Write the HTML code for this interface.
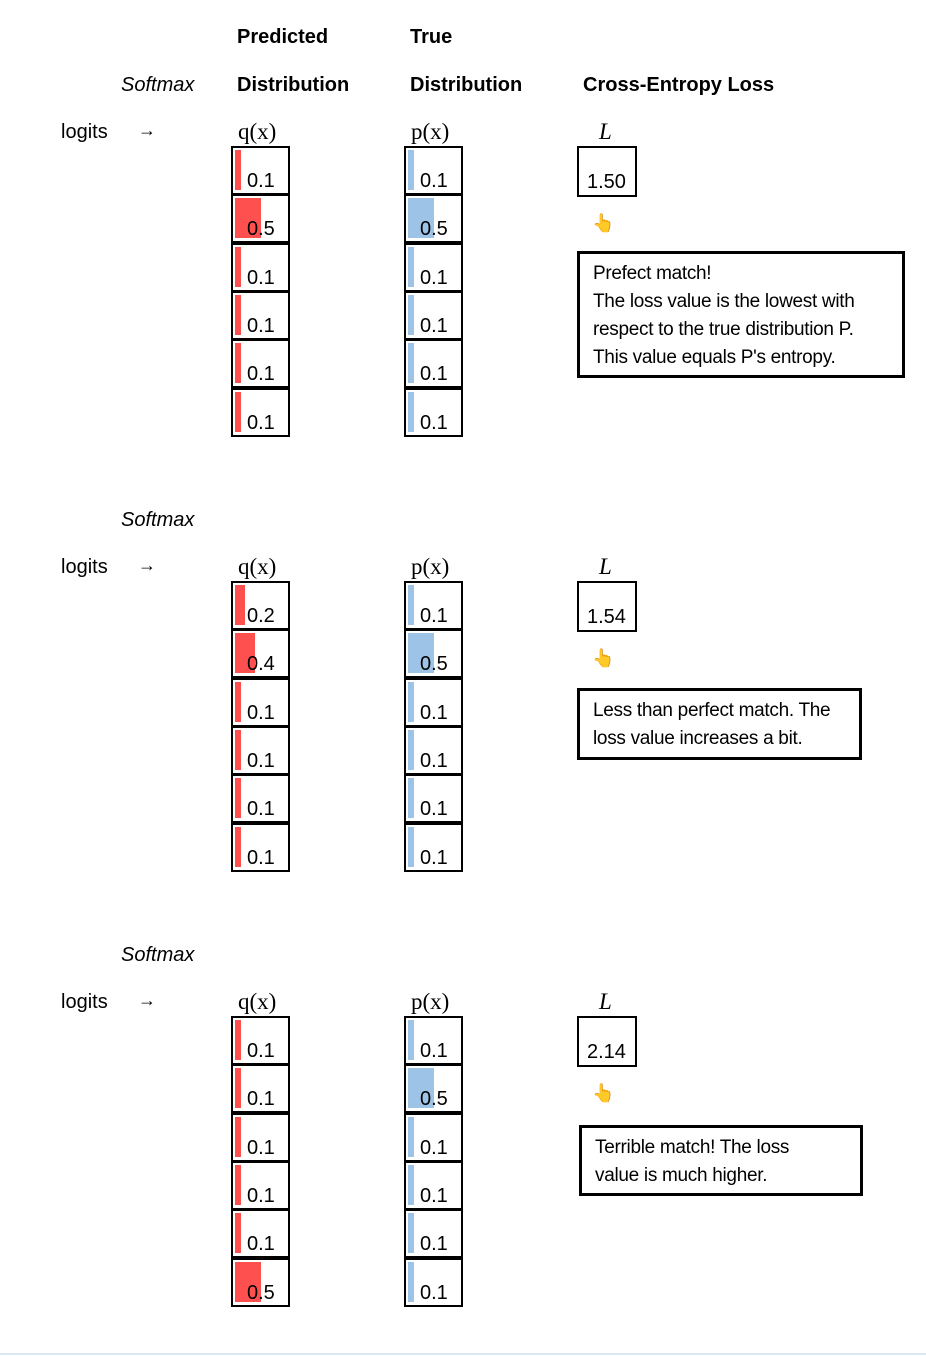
<!DOCTYPE html>
<html><head><meta charset="utf-8"><style>
body{margin:0;width:926px;height:1356px;background:#fff;position:relative;overflow:hidden;font-family:"Liberation Sans",sans-serif;color:#000}
.a{position:absolute;white-space:nowrap}
.h{font-weight:bold;font-size:20px}
.i{font-style:italic;font-size:20px}
.s{font-family:"Liberation Serif",serif;font-size:23px}
.cell{position:absolute;width:55px;height:45px;border:2px solid #000;box-sizing:content-box}
.v{position:absolute;font-size:20px;left:14px;top:22px}
.bar{position:absolute;left:2px;top:2px;height:40px}
.box{position:absolute;border:3px solid #000;font-size:19px;line-height:28px;padding:6px 13px;box-sizing:border-box;letter-spacing:-0.3px}
</style></head><body>
<div class="a h" style="left:237px;top:26px">Predicted</div>
<div class="a h" style="left:410px;top:26px">True</div>
<div class="a h" style="left:237px;top:74px">Distribution</div>
<div class="a h" style="left:410px;top:74px">Distribution</div>
<div class="a h" style="left:583px;top:74px">Cross-Entropy Loss</div>
<div id="root"></div>
<div class="a" style="left:0;top:1353px;width:926px;height:2px;background:#dbe8f2"></div>
<script>
var secs=[
 {q:[.1,.5,.1,.1,.1,.1],ql:["0.1","0.5","0.1","0.1","0.1","0.1"],L:"1.50",t:"Prefect match!<br>The loss value is the lowest with<br>respect to the true distribution P.<br>This value equals P's entropy.",bx:[577,251,328,127]},
 {q:[.2,.4,.1,.1,.1,.1],ql:["0.2","0.4","0.1","0.1","0.1","0.1"],L:"1.54",t:"Less than perfect match. The<br>loss value increases a bit.",bx:[577,688,285,72]},
 {q:[.1,.1,.1,.1,.1,.5],ql:["0.1","0.1","0.1","0.1","0.1","0.5"],L:"2.14",t:"Terrible match! The loss<br>value is much higher.",bx:[579,1125,284,71]}
];
var h="";
secs.forEach(function(s,k){
 var o=k*435;
 h+='<div class="a i" style="left:121px;top:'+(74+o)+'px">Softmax</div>';
 h+='<div class="a" style="left:61px;top:'+(121+o)+'px;font-size:20px">logits</div>';
 h+='<div class="a" style="left:138px;top:'+(120+o)+'px;font-size:18px">&rarr;</div>';
 h+='<div class="a s" style="left:238px;top:'+(119+o)+'px">q(x)</div>';
 h+='<div class="a s" style="left:411px;top:'+(119+o)+'px">p(x)</div>';
 h+='<div class="a s" style="left:599px;top:'+(119+o)+'px;font-style:italic">L</div>';
 var p=[.1,.5,.1,.1,.1,.1];
 for(var r=0;r<6;r++){
  var y=146+o+r*48.3;
  var wq=s.q[r]==.5?26:s.q[r]==.4?20:s.q[r]==.2?10:6;
  h+='<div class="cell" style="left:231px;top:'+y+'px"><div class="bar" style="width:'+wq+'px;background:#ff5050"></div><div class="v">'+s.ql[r]+'</div></div>';
  var wp=p[r]==.5?26:6;
  h+='<div class="cell" style="left:404px;top:'+y+'px"><div class="bar" style="width:'+wp+'px;background:#9dc3e6"></div><div class="v">'+(p[r]==.5?"0.5":"0.1")+'</div></div>';
 }
 h+='<div class="a" style="left:577px;top:'+(146+o)+'px;width:56px;height:47px;border:2px solid #000"><div style="position:absolute;left:8px;top:23px;font-size:20px">'+s.L+'</div></div>';
 h+='<div class="a" style="left:592px;top:'+(213+o)+'px;font-size:18px">👆</div>';
 h+='<div class="box" style="left:'+s.bx[0]+'px;top:'+s.bx[1]+'px;width:'+s.bx[2]+'px;height:'+s.bx[3]+'px">'+s.t+'</div>';
});
document.getElementById("root").innerHTML=h;
</script>
</body></html>
